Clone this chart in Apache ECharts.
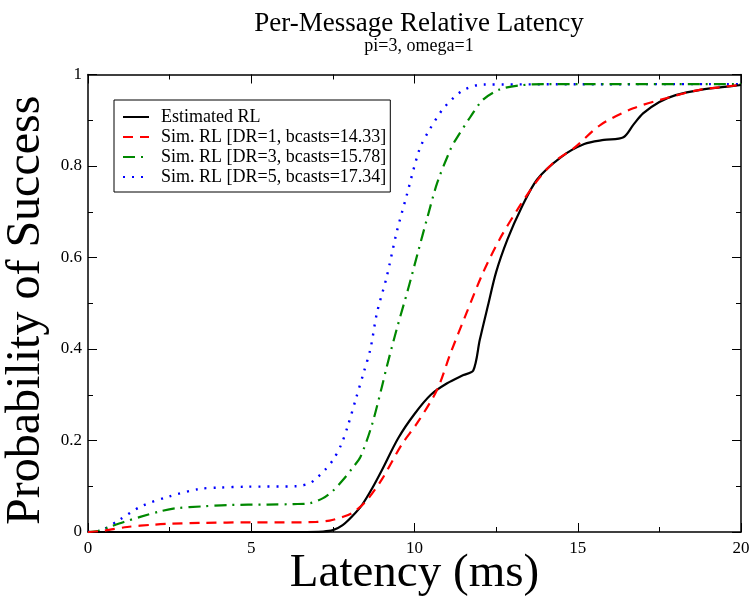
<!DOCTYPE html>
<html>
<head>
<meta charset="utf-8">
<script src="https://cdn.jsdelivr.net/npm/echarts@6/dist/echarts.min.js"></script>
<style>html,body{margin:0;padding:0;background:#fff}#c{width:752px;height:596px}</style>
</head>
<body>
<div id="c"></div>
<script>
const titleText = 'Per-Message Relative Latency';
const subtitleText = 'pi=3, omega=1';
const xTicks = [0, 5, 10, 15, 20];
const yTicks = [0, 0.2, 0.4, 0.6, 0.8, 1];
const seriesNames = ['Estimated RL', 'Sim. RL [DR=1, bcasts=14.33]', 'Sim. RL [DR=3, bcasts=15.78]', 'Sim. RL [DR=5, bcasts=17.34]'];

const estX = [0, 6.5, 7.2, 7.5, 7.8, 8.1, 8.4, 8.7, 9.0, 9.5, 10.0, 10.5, 11.0, 11.5, 11.8, 12.0, 12.25, 12.5, 12.85, 13.25, 13.75, 14.5, 15.2, 15.8, 16.4, 16.7, 17.0, 17.5, 18.0, 18.8, 19.5, 20];
const estY = [0, 0, 0.001, 0.004, 0.015, 0.035, 0.06, 0.095, 0.135, 0.205, 0.258, 0.3, 0.325, 0.343, 0.353, 0.42, 0.495, 0.568, 0.64, 0.705, 0.77, 0.82, 0.848, 0.857, 0.863, 0.89, 0.915, 0.94, 0.955, 0.967, 0.973, 0.977];

const dr1X = [0, 0.5, 1.2, 2.0, 2.5, 3.5, 5, 6, 7.0, 7.4, 7.8, 8.1, 8.5, 9.0, 9.6, 10.1, 10.7, 11.1, 11.6, 12.1, 12.6, 13.2, 13.8, 14.3, 14.9, 15.7, 16.7, 17.7, 18.7, 20];
const dr1Y = [0, 0.003, 0.011, 0.016, 0.018, 0.02, 0.021, 0.021, 0.022, 0.025, 0.033, 0.042, 0.066, 0.115, 0.19, 0.24, 0.312, 0.39, 0.48, 0.567, 0.639, 0.71, 0.772, 0.81, 0.84, 0.89, 0.926, 0.948, 0.966, 0.977];

const dr3X = [0, 0.3, 0.65, 1.1, 1.6, 2.2, 2.7, 3.5, 4.3, 5.5, 6.3, 6.8, 7.2, 7.5, 7.8, 8.1, 8.35, 8.7, 9.0, 9.15, 9.45, 9.8, 10.1, 10.4, 10.7, 11.1, 11.25, 11.7, 12.1, 12.6, 13.2, 14, 20];
const dr3Y = [0, 0.002, 0.011, 0.022, 0.033, 0.045, 0.052, 0.056, 0.059, 0.06, 0.061, 0.063, 0.074, 0.09, 0.113, 0.14, 0.165, 0.235, 0.317, 0.361, 0.442, 0.53, 0.61, 0.689, 0.764, 0.836, 0.856, 0.906, 0.945, 0.967, 0.976, 0.979, 0.979];

const dr5X = [0, 0.2, 0.45, 0.95, 1.65, 2.5, 3.4, 4.0, 4.85, 6.4, 6.8, 7.0, 7.25, 7.5, 7.75, 7.95, 8.2, 8.45, 8.65, 8.85, 9.15, 9.45, 9.75, 10.15, 10.4, 10.9, 11.5, 12.1, 20];
const dr5Y = [0, 0.001, 0.005, 0.026, 0.057, 0.078, 0.094, 0.097, 0.099, 0.1, 0.107, 0.118, 0.135, 0.157, 0.19, 0.23, 0.29, 0.35, 0.4, 0.479, 0.558, 0.654, 0.733, 0.836, 0.872, 0.927, 0.966, 0.978, 0.979];

const pairs = (xs, ys) => xs.map((x, i) => [x, ys[i]]);
const FONT = '"Liberation Serif", "DejaVu Serif", serif';

const tickCommon = {
  axisLine: { show: true, onZero: false, lineStyle: { color: '#000', width: 1.5 } },
  axisTick: { show: true, inside: true, length: 9, lineStyle: { color: '#000', width: 1 } },
  minorTick: { show: true, splitNumber: 2, length: 5, lineStyle: { color: '#000', width: 1 } },
  splitLine: { show: false },
  minorSplitLine: { show: false }
};

const option = {
  backgroundColor: '#fff',
  animation: false,
  title: {
    text: titleText,
    subtext: subtitleText,
    left: 414,
    top: 5,
    textAlign: 'center',
    itemGap: 0,
    textStyle: { fontFamily: FONT, fontSize: 27, fontWeight: 'normal', color: '#000' },
    subtextStyle: { fontFamily: FONT, fontSize: 18, color: '#000' }
  },
  legend: {
    orient: 'vertical',
    left: 114,
    top: 100,
    padding: [8, 4, 6, 8],
    itemGap: 2,
    itemWidth: 26,
    itemHeight: 14,
    borderColor: '#000',
    borderWidth: 1,
    borderRadius: 0,
    backgroundColor: '#fff',
    itemStyle: { opacity: 0 },
    data: seriesNames,
    textStyle: { fontFamily: FONT, fontSize: 18, color: '#000', padding: [0, 0, 0, 7] }
  },
  grid: { left: 88, right: 11, top: 74.5, bottom: 64, containLabel: false, outerBoundsMode: 'none' },
  xAxis: [
    Object.assign({
      type: 'value', min: 0, max: 20, interval: 5, position: 'bottom',
      name: 'Latency (ms)', nameLocation: 'middle', nameGap: 18, nameMoveOverlap: false,
      nameTextStyle: { fontFamily: FONT, fontSize: 47, color: '#000', verticalAlign: 'top' },
      axisLabel: { fontFamily: FONT, fontSize: 17, color: '#000', margin: 8,
        formatter: v => xTicks.includes(v) ? String(v) : '' }
    }, tickCommon),
    Object.assign({
      type: 'value', min: 0, max: 20, interval: 5, position: 'top',
      axisLabel: { show: false }
    }, tickCommon)
  ],
  yAxis: [
    Object.assign({
      type: 'value', min: 0, max: 1, interval: 0.2, position: 'left',
      name: 'Probability of Success', nameLocation: 'middle', nameGap: 38, nameMoveOverlap: false,
      nameTextStyle: { fontFamily: FONT, fontSize: 48, color: '#000', padding: [0, 14, 0, 0] },
      axisLabel: { fontFamily: FONT, fontSize: 17, color: '#000', margin: 6,
        formatter: v => { const t = yTicks.find(k => Math.abs(k - v) < 1e-9); return t === undefined ? '' : String(t); } }
    }, tickCommon),
    Object.assign({
      type: 'value', min: 0, max: 1, interval: 0.2, position: 'right',
      axisLabel: { show: false }
    }, tickCommon)
  ],
  series: [
    { name: seriesNames[0], type: 'line', data: pairs(estX, estY), smooth: 0.3, symbol: 'none',
      lineStyle: { color: '#000', width: 2.2, type: 'solid' }, itemStyle: { color: '#000' }, z: 5 },
    { name: seriesNames[1], type: 'line', data: pairs(dr1X, dr1Y), smooth: 0.3, symbol: 'none',
      lineStyle: { color: '#ff0000', width: 2.2, type: [10, 7] }, itemStyle: { color: '#ff0000' }, z: 6 },
    { name: seriesNames[2], type: 'line', data: pairs(dr3X, dr3Y), smooth: 0.3, symbol: 'none',
      lineStyle: { color: '#008800', width: 2.2, type: [12, 6, 2, 6] }, itemStyle: { color: '#008800' }, z: 4 },
    { name: seriesNames[3], type: 'line', data: pairs(dr5X, dr5Y), smooth: 0.3, symbol: 'none',
      lineStyle: { color: '#0000ff', width: 2.4, type: [2, 7] }, itemStyle: { color: '#0000ff' }, z: 3 }
  ]
};

const chart = echarts.init(document.getElementById('c'), null, { renderer: 'canvas' });
chart.setOption(option);
</script>
</body>
</html>
